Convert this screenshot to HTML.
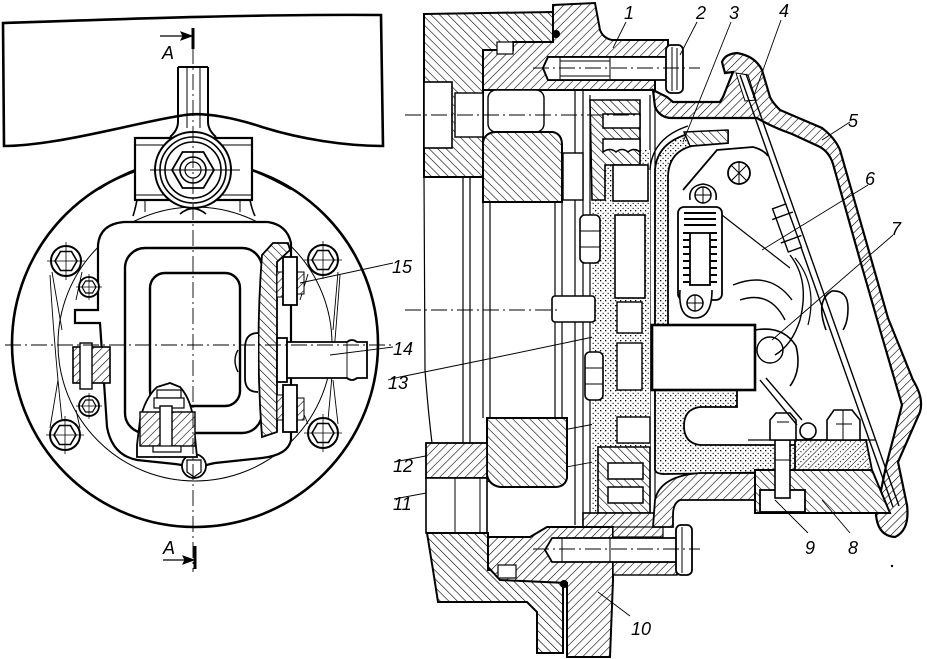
<!DOCTYPE html>
<html><head><meta charset="utf-8"><style>
html,body{margin:0;padding:0;background:#fff;}
svg{display:block}
text{font-family:"Liberation Sans",sans-serif;font-style:italic;font-size:18px;fill:#000;stroke:none}
</style></head><body>
<svg width="927" height="659" viewBox="0 0 927 659" xmlns="http://www.w3.org/2000/svg" xmlns:xlink="http://www.w3.org/1999/xlink">
<defs>
<pattern id="h" patternUnits="userSpaceOnUse" width="6" height="6" patternTransform="rotate(45)"><rect width="6" height="6" fill="#fff"/><line x1="0" y1="0" x2="0" y2="6" stroke="#000" stroke-width="1.2"/></pattern>
<pattern id="g" patternUnits="userSpaceOnUse" width="6" height="6" patternTransform="rotate(-45)"><rect width="6" height="6" fill="#fff"/><line x1="0" y1="0" x2="0" y2="6" stroke="#000" stroke-width="1.2"/></pattern>
<pattern id="s" patternUnits="userSpaceOnUse" width="5" height="5"><rect width="5" height="5" fill="#fff"/><rect x="0" y="0" width="1.3" height="1.3" fill="#000"/><rect x="2.6" y="2.8" width="1.1" height="1.1" fill="#000"/></pattern>
<pattern id="hs" patternUnits="userSpaceOnUse" width="7" height="7" patternTransform="rotate(45)"><rect width="7" height="7" fill="#fff"/><line x1="0" y1="0" x2="0" y2="7" stroke="#000" stroke-width="1"/><rect x="3.5" y="1" width="1.2" height="1.2" fill="#000"/><rect x="3.2" y="4.5" width="1.1" height="1.1" fill="#000"/></pattern>
<g id="bb" stroke="#000" fill="none"><circle r="15" fill="#fff" stroke-width="2"/><path d="M11,0 L5.5,9.5 L-5.5,9.5 L-11,0 L-5.5,-9.5 L5.5,-9.5 Z" stroke-width="1.6"/><path d="M-19,0 H19 M0,-19 V19" stroke-width="0.8"/></g>
<g id="sb" stroke="#000" fill="none"><circle r="10" fill="#fff" stroke-width="1.8"/><path d="M7,0 L3.5,6 L-3.5,6 L-7,0 L-3.5,-6 L3.5,-6 Z" stroke-width="1.2"/><path d="M-13,0 H13 M0,-13 V13" stroke-width="0.7"/></g>
</defs>

<!-- ================= LEFT VIEW ================= -->
<g fill="none" stroke="#000" stroke-width="2">
  <circle cx="195" cy="344" r="183" stroke-width="2.6"/>
  <circle cx="195" cy="344" r="137" stroke-width="1"/>
  <!-- lug lines -->
  <path d="M52,272 L62,330 M82,272 L76,300 M338,272 L333,330 M308,274 L300,300 M50,428 L58,380 M80,428 L76,410 M338,424 L333,380 M308,424 L300,405" stroke-width="0.9"/>
  <path d="M50,275 Q54,345 62,420 M340,275 Q335,345 328,420" stroke-width="0.9"/>
  <!-- neck fillets -->
  <path d="M135,170 Q115,178 99,189 M252,170 Q272,178 291,189" stroke-width="2.2"/>
  <!-- inner housing -->
  <path d="M98,310 L98,245 Q100,224 124,222 L268,222 Q287,225 291,243 L291,440 Q288,455 262,458 L215,463 Q200,466 195,470 Q190,466 175,464 L137,460 Q112,455 107,427 L100,323 L75,323 L75,310 Z" fill="#fff" stroke-width="2.2"/>
  <!-- yoke -->
  <rect x="125" y="248" width="137" height="185" rx="20" stroke-width="2.4"/>
  <rect x="150" y="273" width="90" height="133" rx="15" stroke-width="2.4"/>

  <!-- top plate -->
  <path d="M3,23 C120,19 260,14 381,15 L383,146 C345,146 300,139 262,127 C235,118 205,112 185,115 C150,120 100,134 55,141 C30,145 12,146 4,146 Z" fill="#fff" stroke-width="2.6"/>
  <!-- stem -->
  <path d="M178,67 V122 Q178,130 170,137 M208,67 V122 Q208,130 216,137 M178,67 H208" stroke-width="2"/>
  <path d="M187,67 V128 M200,67 V128" stroke-width="1"/>
  <!-- bracket -->
  <rect x="135" y="138" width="117" height="62" fill="#fff" stroke-width="2.2"/>
  <path d="M135,145 H252 M135,195 H252 M145,200 V212 M240,200 V212" stroke-width="1"/>
  <path d="M137,200 Q135,210 133,216 M250,200 Q252,210 255,216 M180,214 Q193,203 206,214" stroke-width="1.6"/>
  <!-- ring + nut -->
  <circle cx="193" cy="170" r="38" fill="#fff" stroke-width="2"/>
  <circle cx="193" cy="170" r="33" stroke-width="1.6"/>
  <circle cx="193" cy="170" r="28" stroke-width="1.6"/>
  <path d="M214,170 L203.5,188 L182.5,188 L172,170 L182.5,152 L203.5,152 Z" stroke-width="1.8"/>
  <circle cx="193" cy="170" r="13" stroke-width="1.6"/>
  <circle cx="193" cy="170" r="8" stroke-width="1.2"/>
  <path d="M150,170 H240" stroke-width="0.9"/>

  <!-- bolts -->
  <use xlink:href="#bb" href="#bb" x="66" y="261"/>
  <use xlink:href="#bb" href="#bb" x="323" y="260"/>
  <use xlink:href="#bb" href="#bb" x="65" y="435"/>
  <use xlink:href="#bb" href="#bb" x="323" y="433"/>
  <use xlink:href="#sb" href="#sb" x="89" y="287"/>
  <use xlink:href="#sb" href="#sb" x="89" y="406"/>
  <circle cx="194" cy="466" r="12" fill="#fff" stroke-width="1.8"/>
  <path d="M187,460 L201,460 L201,472 L194,477 L187,472 Z" stroke-width="1.2"/>

  <!-- left hatched block -->
  <rect x="73" y="347" width="37" height="36" fill="url(#h)" stroke-width="1.6"/>
  <rect x="80" y="343" width="12" height="46" fill="#fff" stroke-width="1.4"/>

  <!-- plate and pins -->
  <path d="M262,255 L273,243 L288,243 L290,250 L277,262 L277,432 L262,437 Q255,345 262,255 Z" fill="url(#g)" stroke-width="1.8"/>
  <rect x="277" y="272" width="6" height="25" fill="url(#h)" stroke-width="1"/>
  <rect x="297" y="272" width="7" height="22" fill="url(#h)" stroke-width="1"/>
  <rect x="283" y="257" width="14" height="48" fill="#fff" stroke-width="1.8"/>
  <rect x="277" y="395" width="6" height="25" fill="url(#h)" stroke-width="1"/>
  <rect x="297" y="398" width="7" height="22" fill="url(#h)" stroke-width="1"/>
  <rect x="283" y="385" width="14" height="47" fill="#fff" stroke-width="1.8"/>
  <!-- nut left of plate -->
  <path d="M258,333 Q245,333 245,348 L245,378 Q245,392 258,392" fill="#fff" stroke-width="1.8"/>
  <path d="M238,350 Q232,360 238,372" stroke-width="1.4"/>
  <!-- shaft 14 -->
  <rect x="277" y="338" width="10" height="44" fill="#fff" stroke-width="1.8"/>
  <path d="M287,342 H347 Q352,338 357,342 H367 V378 H357 Q352,382 347,378 H287 Z" fill="#fff" stroke-width="1.8"/>
  <path d="M347,342 V378" stroke-width="0.9"/>

  <!-- fuse block bottom -->
  <path d="M137,457 L137,445 L140,420 Q145,398 157,387 L170,383 L180,387 Q190,398 193,417 L197,457 Z" fill="#fff" stroke-width="1.8"/>
  <rect x="140" y="412" width="55" height="34" fill="url(#h)" stroke-width="1.4"/>
  <rect x="157" y="390" width="24" height="8" fill="#fff" stroke-width="1.2"/>
  <rect x="154" y="398" width="30" height="10" fill="#fff" stroke-width="1.2"/>
  <rect x="160" y="406" width="12" height="42" fill="#fff" stroke-width="1.4"/>
  <rect x="153" y="446" width="28" height="6" fill="#fff" stroke-width="1.2"/>

  <!-- center lines -->
  <path d="M5,345 H395 M193,48 V572" stroke-width="0.9" stroke-dasharray="16 4 2 4"/>
  <!-- section marks -->
  <path d="M160,36 H184" stroke-width="1.2"/>
  <path d="M192,36 L181,32 L183,36 L181,40 Z" fill="#000" stroke-width="1"/>
  <path d="M193,28 V49" stroke-width="3"/>
  <path d="M163,560 H186" stroke-width="1.2"/>
  <path d="M194,560 L183,556 L185,560 L183,564 Z" fill="#000" stroke-width="1"/>
  <path d="M195,546 V569" stroke-width="3"/>

  <!-- leaders -->
  <path d="M393,263 L300,283 M393,347 L330,355 M388,380 L400,377 L493,358 L617,332 M394,462 L600,423 M394,499 L647,452" stroke-width="0.9"/>
</g>

<!-- ================= RIGHT VIEW ================= -->
<g fill="none" stroke="#000" stroke-width="2">
  <!-- guide lines -->
  <path d="M424,177 L425,370 Q428,410 432,443 M463,178 V533 M470,178 V533 M483,202 V418 M490,202 V418 M555,202 V418 M562,150 V420 M575,88 V525 M583,88 V525 M590,95 V525 M650,95 V525 M655,95 V525" stroke-width="1.2"/>

  <!-- Part A -->
  <path d="M424,14 L553,12 L553,42 L513,42 L513,50 L483,50 L483,177 L424,177 Z" fill="url(#g)" stroke-width="2"/>
  <rect x="424" y="82" width="28" height="66" fill="#fff" stroke-width="1.6"/>
  <rect x="455" y="93" width="28" height="44" fill="#fff" stroke-width="1.4"/>
  <!-- Part B -->
  <path d="M553,12 L553,5 L595,3 L600,30 Q603,38 612,40 L668,40 L668,57 L548,57 L543,68 L548,80 L655,80 L655,90 L483,90 L483,50 L513,50 L513,42 L553,42 Z" fill="url(#h)" stroke-width="2"/>
  <rect x="497" y="42" width="16" height="12" fill="#fff" stroke-width="1.2"/>
  <rect x="488" y="90" width="56" height="42" rx="8" fill="#fff" stroke-width="1.4"/>
  <!-- bolt 1 -->
  <path d="M548,57 L668,57 L668,80 L548,80 L543,68 Z" fill="#fff" stroke-width="1.8"/>
  <path d="M560,57 V80 M610,57 V80 M560,61 H610 M560,76 H610" stroke-width="1"/>
  <rect x="666" y="45" width="17" height="48" rx="5" fill="#fff" stroke-width="1.8"/>
  <path d="M672,47 V91 M677,48 V90" stroke-width="1"/>
  <circle cx="556" cy="34" r="4" fill="#000" stroke="none"/>

  <!-- magnet blocks -->
  <path d="M483,142 Q485,132 497,132 L553,132 Q562,134 562,145 L562,202 L483,202 Z" fill="url(#g)" stroke-width="2"/>
  <rect x="563" y="153" width="20" height="47" fill="#fff" stroke-width="1.4"/>
  <path d="M487,418 L567,418 L567,478 Q565,487 555,487 L500,487 Q489,485 487,475 Z" fill="url(#g)" stroke-width="2"/>
  <rect x="426" y="443" width="61" height="35" fill="url(#h)" stroke-width="1.8"/>
  <rect x="426" y="478" width="61" height="55" fill="#fff" stroke-width="1.6"/>
  <path d="M455,478 V533 M480,478 V533" stroke-width="1"/>

  <!-- middle column -->
  <rect x="592" y="150" width="58" height="375" fill="url(#s)" stroke="none"/>
  <path d="M590,100 H640 V165 H605 V200 H592 Z" fill="url(#g)" stroke-width="1.6"/>
  <rect x="603" y="114" width="37" height="14" fill="#fff" stroke-width="1.5"/>
  <path d="M603,139 H640 V152 Q634,147 628,152 Q622,147 616,152 Q610,147 603,152 Z" fill="#fff" stroke-width="1.5"/>
  <rect x="613" y="165" width="35" height="36" fill="#fff" stroke-width="1.6"/>
  <rect x="615" y="215" width="30" height="83" fill="#fff" stroke-width="1.6"/>
  <rect x="617" y="302" width="25" height="31" fill="#fff" stroke-width="1.4"/>
  <rect x="617" y="343" width="25" height="47" fill="#fff" stroke-width="1.4"/>
  <rect x="617" y="417" width="33" height="26" fill="#fff" stroke-width="1.4"/>
  <path d="M598,447 H650 V513 H598 Z" fill="url(#g)" stroke-width="1.6"/>
  <path d="M608,463 H643 V479 H608 Z" fill="#fff" stroke-width="1.5"/>
  <rect x="608" y="487" width="35" height="16" fill="#fff" stroke-width="1.5"/>
  <rect x="583" y="513" width="72" height="17" fill="url(#h)" stroke-width="1.6"/>
  <rect x="580" y="215" width="20" height="48" rx="5" fill="#fff" stroke-width="1.6"/>
  <path d="M580,231 H600 M580,247 H600" stroke-width="1"/>
  <rect x="585" y="352" width="18" height="48" rx="5" fill="#fff" stroke-width="1.6"/>
  <path d="M585,368 H603 M585,384 H603" stroke-width="1"/>
  <rect x="552" y="296" width="43" height="26" rx="3" fill="#fff" stroke-width="1.6"/>

  <!-- bottom housing -->
  <path d="M427,533 L488,533 L488,570 L563,570 L563,653 L537,653 L537,612 L527,602 L438,602 L433,570 Z" fill="url(#g)" stroke-width="2"/>
  <path d="M488,537 L530,537 L547,527 L613,527 L613,580 L610,657 L567,657 L567,583 L500,580 L488,567 Z" fill="url(#h)" stroke-width="2"/>
  <rect x="613" y="527" width="50" height="10" fill="url(#h)" stroke-width="1.2"/>
  <rect x="613" y="562" width="64" height="13" fill="url(#h)" stroke-width="1.4"/>
  <rect x="498" y="565" width="18" height="13" fill="#fff" stroke-width="1.2"/>
  <path d="M552,538 L677,538 L677,562 L552,562 L545,550 Z" fill="#fff" stroke-width="1.8"/>
  <path d="M562,538 V562 M610,538 V562" stroke-width="1"/>
  <rect x="676" y="525" width="16" height="50" rx="5" fill="#fff" stroke-width="1.8"/>
  <path d="M682,527 V573" stroke-width="1"/>
  <circle cx="564" cy="584" r="4" fill="#000" stroke="none"/>

  <!-- cover 5 -->
  <path d="M653,90 L655,107 Q660,118 672,118 L757,118 Q772,127 792,134 L818,146 Q829,151 833,164 L860,260 L883,340 L902,405 L886,466 L876,515 Q878,536 895,537 Q910,530 907,505 L898,462 L920,412 Q924,398 913,380 L888,318 L840,150 Q835,138 822,128 L780,110 Q772,102 770,97 L762,70 Q755,56 737,53 Q725,54 722,62 L725,73 L733,72 L727,87 L723,97 L720,102 L673,102 L667,97 Z" fill="url(#h)" stroke-width="2.2"/>
  <path d="M736,73 L748,75 L756,100 L745,101 Z" fill="#fff" stroke-width="1"/>

  <!-- box 3 stipple frame -->
  <path d="M655,325 L655,170 Q657,143 688,134 L728,131 L728,143 L692,146 Q668,152 668,178 L668,325 Z" fill="url(#s)" stroke-width="1.8"/>
  <path d="M684,132 L728,130 L728,143 L690,146 Z" fill="url(#g)" stroke-width="1.4"/>
  <path d="M650,170 Q652,138 688,126" stroke-width="1.4"/>
  <path d="M655,390 L655,470 Q656,474 665,474 L800,472 L800,445 L700,445 Q684,443 684,426 Q684,409 700,407 L737,407 L737,390 Z" fill="url(#s)" stroke-width="1.8"/>
  <!-- lower housing -->
  <path d="M653,527 L655,500 Q660,476 700,473 L755,473 L755,500 L680,500 Q673,503 673,515 L673,527 Z" fill="url(#h)" stroke-width="1.8"/>
  <!-- bracket 8 -->
  <path d="M755,470 L872,470 L890,513 L755,513 Z" fill="url(#g)" stroke-width="2"/>
  <path d="M795,440 L866,440 L872,470 L795,470 Z" fill="url(#hs)" stroke-width="1.8"/>
  <path d="M748,440 H875" stroke-width="1.2"/>
  <rect x="760" y="490" width="45" height="22" fill="#fff" stroke-width="1.8"/>
  <rect x="775" y="440" width="15" height="58" fill="#fff" stroke-width="1.6"/>
  <path d="M770,440 L770,420 L776,413 L790,413 L796,420 L796,440 Z" fill="#fff" stroke-width="1.6"/>
  <path d="M777,422 H789 M775,460 H790" stroke-width="1"/>
  <path d="M827,440 L827,420 L834,410 L852,410 L860,420 L860,440 Z" fill="#fff" stroke-width="1.6"/>
  <path d="M843,410 V440 M836,424 H852" stroke-width="1"/>
  <circle cx="808" cy="431" r="8" fill="#fff" stroke-width="1.6"/>

  <!-- rod 4 -->
  <path d="M740,75 L893,507 M746,74 L899,506" stroke-width="1.4"/>
  <g transform="rotate(-20 787 228)"><rect x="780" y="205" width="14" height="46" fill="#fff" stroke-width="1.4"/><path d="M776,215 H798 M776,240 H798" stroke-width="1.4"/></g>

  <!-- plate 6 & pivots -->
  <path d="M683,190 Q700,170 717,150 L753,147 Q764,150 768,156" stroke-width="1.8"/>
  <circle cx="739" cy="173" r="11" fill="#fff" stroke-width="1.8"/>
  <path d="M731,165 L747,181 M747,165 L731,181 M739,161 V185" stroke-width="1"/>
  <path d="M690,200 Q688,186 703,184 Q718,186 716,200" fill="#fff" stroke-width="1.6"/>
  <circle cx="703" cy="195" r="8" fill="#fff" stroke-width="1.5"/>
  <path d="M695,195 H711 M703,187 V203" stroke-width="1"/>
  <rect x="678" y="207" width="44" height="93" rx="6" fill="#fff" stroke-width="1.8"/>
  <path d="M684,213 H716 M684,219 H716 M684,225 H716 M683,233 H690 M683,240 H690 M683,247 H690 M683,254 H690 M683,261 H690 M683,268 H690 M683,275 H690 M683,282 H690 M710,233 H717 M710,240 H717 M710,247 H717 M710,254 H717 M710,261 H717 M710,268 H717 M710,275 H717 M710,282 H717" stroke-width="2"/>
  <rect x="690" y="233" width="20" height="52" fill="#fff" stroke-width="1.8"/>
  <path d="M680,290 Q678,318 695,318 Q712,318 712,290" fill="#fff" stroke-width="1.6"/>
  <circle cx="695" cy="303" r="8" fill="#fff" stroke-width="1.5"/>
  <path d="M687,303 H703 M695,295 V311" stroke-width="1"/>
  <path d="M722,215 L790,268" stroke-width="1.2"/>
  <path d="M733,285 Q770,270 792,300 M740,300 Q770,290 785,320" stroke-width="1.4"/>
  <!-- wires & hook -->
  <path d="M790,255 Q810,280 800,320 Q792,345 775,355" stroke-width="1.4"/>
  <path d="M795,258 Q818,285 808,325" stroke-width="1.2"/>
  <path d="M826,330 Q815,300 832,291 Q848,290 848,308 Q848,322 843,330" stroke-width="1.6"/>

  <!-- box 7 -->
  <rect x="652" y="325" width="103" height="65" fill="#fff" stroke-width="2.6"/>
  <path d="M755,330 Q783,325 796,346 Q802,370 790,386" stroke-width="1.6"/>
  <circle cx="770" cy="350" r="13" stroke-width="1.4"/>
  <path d="M760,380 L797,425 M766,378 L802,420" stroke-width="1.4"/>

  <!-- center lines -->
  <path d="M405,115 H640 M405,310 H560 M533,68 H700 M533,549 H700" stroke-width="0.9" stroke-dasharray="16 4 2 4"/>

  <!-- leaders -->
  <path d="M626,22 L613,48 M697,22 L680,55 M731,22 L683,142 M781,20 L753,98 M850,122 L822,140 M868,185 L762,250 M893,235 L772,340 M850,533 L822,500 M808,533 L775,500 M630,616 L598,592" stroke-width="0.9"/>
  <circle cx="892" cy="566" r="1.2" fill="#000" stroke="none"/>
</g>

<!-- labels -->
<text x="162" y="59">A</text>
<text x="163" y="554">A</text>
<text x="392" y="273">15</text>
<text x="393" y="355">14</text>
<text x="388" y="389">13</text>
<text x="393" y="472">12</text>
<text x="393" y="510">11</text>
<text x="624" y="19">1</text>
<text x="696" y="19">2</text>
<text x="729" y="19">3</text>
<text x="779" y="17">4</text>
<text x="848" y="127">5</text>
<text x="865" y="185">6</text>
<text x="891" y="235">7</text>
<text x="805" y="554">9</text>
<text x="848" y="554">8</text>
<text x="631" y="635">10</text>
</svg>
</body></html>
